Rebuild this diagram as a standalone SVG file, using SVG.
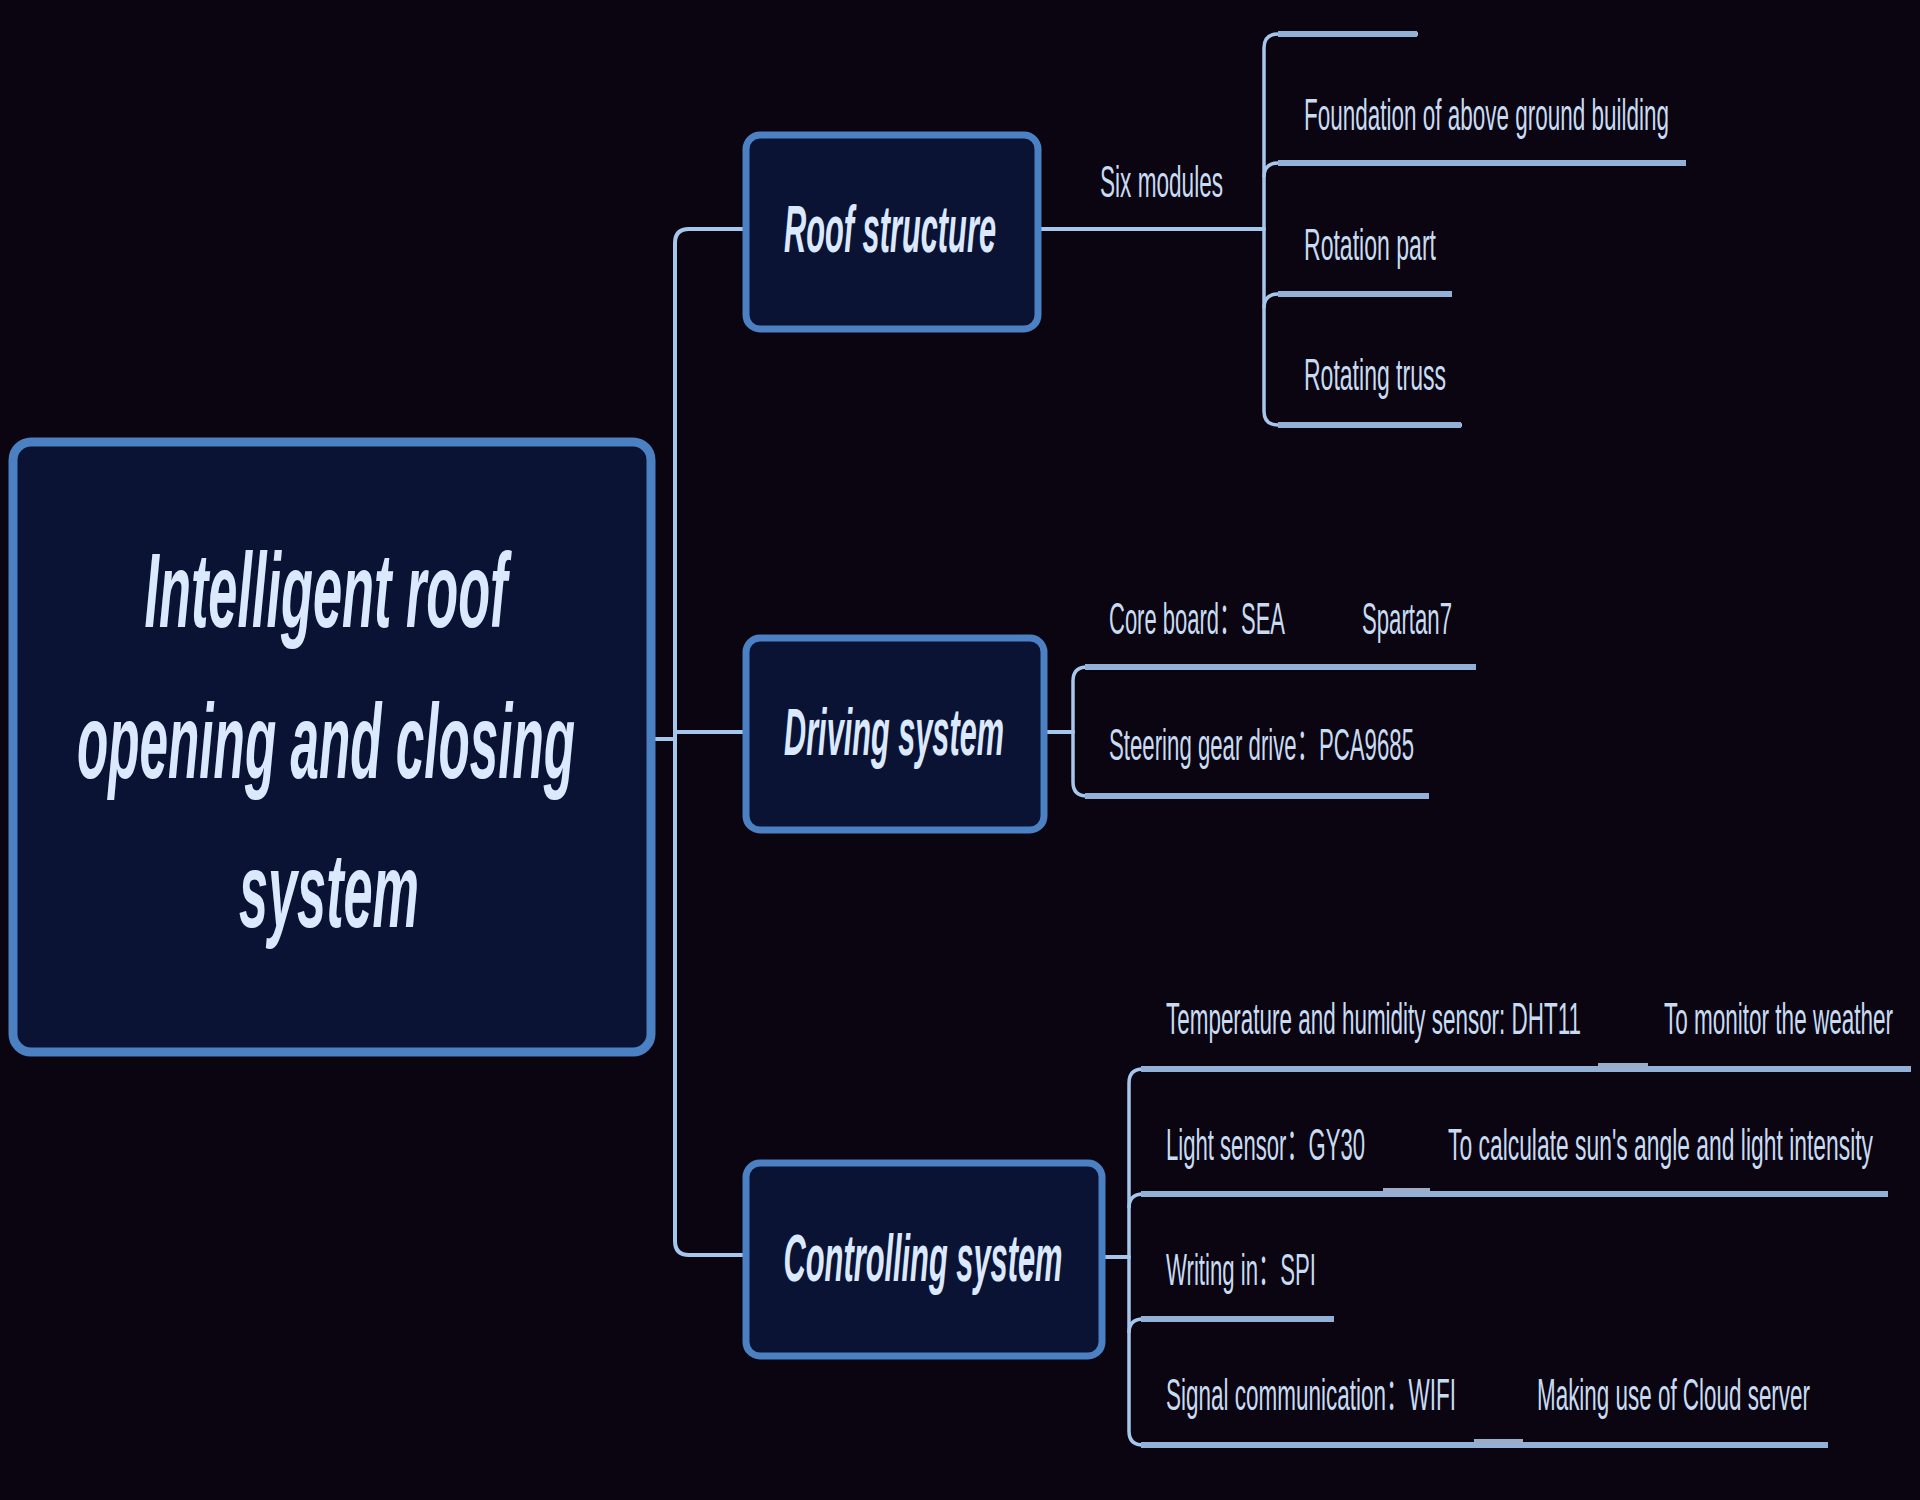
<svg xmlns="http://www.w3.org/2000/svg" width="1920" height="1500" viewBox="0 0 1920 1500">
<style>
.bg{fill:#0a0510}
.box{fill:#0b1335;stroke:#4b80c2;stroke-width:7}
.root{fill:#0b1335;stroke:#4b80c2;stroke-width:9}
.nt{font-family:"Liberation Sans","Noto Sans CJK SC",sans-serif;font-style:italic;font-weight:bold;fill:#dbe9ff;text-anchor:middle}
.st{font-family:"Liberation Sans","Noto Sans CJK SC",sans-serif;font-size:44px;fill:#c8dbf3}
.ln{fill:none;stroke:#a7c6ec;stroke-width:4;stroke-linecap:round}
.ul{fill:none;stroke:#93b1d6;stroke-width:6;stroke-linecap:butt}
.br{fill:none;stroke:#a7c6ec;stroke-width:3.5}
.bump{fill:none;stroke:#9aaecb;stroke-width:6}
</style>
<rect class="bg" x="0" y="0" width="1920" height="1500"/>

<g id="connectors">
  <path class="ln" d="M651 739 H675"/>
  <path class="ln" d="M744 229 H689 Q675 229 675 243 V1241 Q675 1255 689 1255 H744"/>
  <path class="ln" d="M675 732 H744"/>
  <path class="ln" d="M1039 229 H1264"/>
  <path class="br" d="M1418 34 H1278 Q1264 34 1264 48 V411 Q1264 425 1278 425 H1462"/>
  <path class="br" d="M1264 177 Q1264 163 1278 163"/>
  <path class="br" d="M1264 308 Q1264 294 1278 294"/>
  <path class="ul" d="M1278 34 H1417"/>
  <path class="ul" d="M1278 163 H1686"/>
  <path class="ul" d="M1278 294 H1452"/>
  <path class="ul" d="M1278 425 H1461"/>
  <path class="ln" d="M1045 732 H1073"/>
  <path class="br" d="M1087 667 Q1073 667 1073 681 V782 Q1073 796 1087 796"/>
  <path class="ul" d="M1085 667 H1476"/>
  <path class="ul" d="M1085 796 H1429"/>
  <path class="ln" d="M1102 1257 H1129"/>
  <path class="br" d="M1143 1069 Q1129 1069 1129 1083 V1431 Q1129 1445 1143 1445"/>
  <path class="br" d="M1129 1208 Q1129 1194 1143 1194"/>
  <path class="br" d="M1129 1333 Q1129 1319 1143 1319"/>
  <path class="ul" d="M1141 1069 H1911"/>
  <path class="ul" d="M1141 1194 H1888"/>
  <path class="ul" d="M1141 1319 H1334"/>
  <path class="ul" d="M1141 1445 H1828"/>
  <path class="bump" d="M1598 1066 H1648"/>
  <path class="bump" d="M1383 1191 H1430"/>
  <path class="bump" d="M1474 1442 H1523"/>
</g>

<g id="root">
  <rect class="root" x="13" y="442" width="638" height="610" rx="18"/>
  <text class="nt" font-size="106" transform="translate(326 627) scale(0.5 1)" textLength="726" lengthAdjust="spacingAndGlyphs">Intelligent roof</text>
  <text class="nt" font-size="106" transform="translate(326 778) scale(0.5 1)" textLength="996" lengthAdjust="spacingAndGlyphs">opening and closing</text>
  <text class="nt" font-size="106" transform="translate(329 927) scale(0.5 1)" textLength="360" lengthAdjust="spacingAndGlyphs">system</text>
</g>

<g id="roof-structure">
  <rect class="box" x="746" y="135" width="292" height="194" rx="14"/>
  <text class="nt" font-size="66" transform="translate(890 252) scale(0.5 1)" textLength="424" lengthAdjust="spacingAndGlyphs">Roof structure</text>
</g>
<g id="six-modules">
  <text class="st" transform="translate(1100 197) scale(0.5 1)" textLength="246" lengthAdjust="spacingAndGlyphs">Six modules</text>
</g>
<g id="foundation">
  <text class="st" transform="translate(1304 130) scale(0.5 1)" textLength="730" lengthAdjust="spacingAndGlyphs">Foundation of above ground building</text>
</g>
<g id="rotation-part">
  <text class="st" transform="translate(1304 260) scale(0.5 1)" textLength="264" lengthAdjust="spacingAndGlyphs">Rotation part</text>
</g>
<g id="rotating-truss">
  <text class="st" transform="translate(1304 390) scale(0.5 1)" textLength="284" lengthAdjust="spacingAndGlyphs">Rotating truss</text>
</g>

<g id="driving-system">
  <rect class="box" x="746" y="638" width="298" height="192" rx="14"/>
  <text class="nt" font-size="66" transform="translate(894 755) scale(0.5 1)" textLength="440" lengthAdjust="spacingAndGlyphs">Driving system</text>
</g>
<g id="core-board">
  <text class="st" transform="translate(1109 634) scale(0.5 1)" textLength="352" lengthAdjust="spacingAndGlyphs">Core board：SEA</text>
  <text class="st" transform="translate(1362 634) scale(0.5 1)" textLength="180" lengthAdjust="spacingAndGlyphs">Spartan7</text>
</g>
<g id="steering">
  <text class="st" transform="translate(1109 760) scale(0.5 1)" textLength="610" lengthAdjust="spacingAndGlyphs">Steering gear drive：PCA9685</text>
</g>

<g id="controlling-system">
  <rect class="box" x="746" y="1163" width="356" height="193" rx="14"/>
  <text class="nt" font-size="66" transform="translate(923 1281) scale(0.5 1)" textLength="558" lengthAdjust="spacingAndGlyphs">Controlling system</text>
</g>
<g id="temperature">
  <text class="st" transform="translate(1166 1034) scale(0.5 1)" textLength="830" lengthAdjust="spacingAndGlyphs">Temperature and humidity sensor: DHT11</text>
  <text class="st" transform="translate(1664 1034) scale(0.5 1)" textLength="458" lengthAdjust="spacingAndGlyphs">To monitor the weather</text>
</g>
<g id="light-sensor">
  <text class="st" transform="translate(1166 1160) scale(0.5 1)" textLength="398" lengthAdjust="spacingAndGlyphs">Light sensor：GY30</text>
  <text class="st" transform="translate(1448 1160) scale(0.5 1)" textLength="850" lengthAdjust="spacingAndGlyphs">To  calculate sun's angle and light intensity</text>
</g>
<g id="writing-in">
  <text class="st" transform="translate(1166 1285) scale(0.5 1)" textLength="300" lengthAdjust="spacingAndGlyphs">Writing in：SPI</text>
</g>
<g id="signal">
  <text class="st" transform="translate(1166 1410) scale(0.5 1)" textLength="580" lengthAdjust="spacingAndGlyphs">Signal communication：WIFI</text>
  <text class="st" transform="translate(1537 1410) scale(0.5 1)" textLength="546" lengthAdjust="spacingAndGlyphs">Making use of Cloud server</text>
</g>
</svg>
